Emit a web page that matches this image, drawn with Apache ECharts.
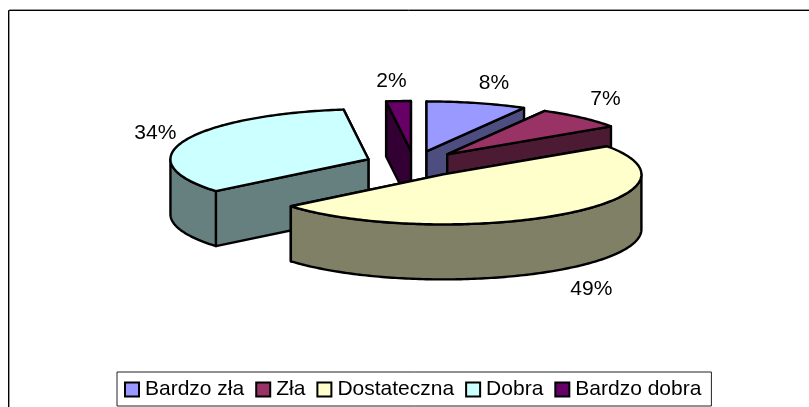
<!DOCTYPE html>
<html>
<head>
<meta charset="utf-8">
<style>html,body{margin:0;padding:0;background:#fff}#c{width:809px;height:407px}</style>
<script src="https://cdn.jsdelivr.net/npm/echarts@6/dist/echarts.min.js"></script>
</head>
<body>
<div id="c"></div>
<script>
const categories = ['Bardzo zła', 'Zła', 'Dostateczna', 'Dobra', 'Bardzo dobra'];
const shares = [8.2, 7.3, 48.5, 34.0, 2.0];
const topColors = ['#9999FF', '#993366', '#FFFFCC', '#CCFFFF', '#660066'];
const wallColors = ['#4D4D80', '#4D1A33', '#808066', '#668080', '#330033'];
const labelNudge = [[17, -20], [24, -18], [29, 20], [-29, -8], [-7, -20]];
const drawOrder = [0, 1, 4, 3, 2];

const pie = { cx: 414, cy: 164, rx: 198, ry: 50, depth: 55, explodeX: 49, explodeY: 13 };
const FONT = '"Liberation Sans", Arial, sans-serif';
const total = shares.reduce((a, b) => a + b, 0);
const starts = [];
shares.reduce((acc, v, i) => { starts[i] = acc; return acc + v; }, 0);
const rad = d => d * Math.PI / 180;

function sliceElements(i) {
  const a0 = starts[i] / total * 360;
  const a1 = (starts[i] + shares[i]) / total * 360;
  const mid = rad((a0 + a1) / 2);
  const ax = pie.cx + pie.explodeX * Math.sin(mid);
  const ay = pie.cy - pie.explodeY * Math.cos(mid);
  const pt = (deg, drop) => [ax + pie.rx * Math.sin(rad(deg)), ay - pie.ry * Math.cos(rad(deg)) + (drop || 0)];
  const line = { stroke: '#000', lineWidth: 2.4, lineJoin: 'round' };
  const poly = (points, fill) => ({ type: 'polygon', shape: { points }, style: Object.assign({ fill }, line) });
  const kids = [];
  // radial cut faces, back one first
  [a0, a1].sort((p, q) => Math.cos(rad(q)) - Math.cos(rad(p))).forEach(a => {
    kids.push(poly([[ax, ay], pt(a), pt(a, pie.depth), [ax, ay + pie.depth]], wallColors[i]));
  });
  // outer rim, only the part facing the viewer
  const from = Math.max(a0, 90), to = Math.min(a1, 270);
  if (to > from) {
    const up = [], down = [];
    for (let d = from; d < to; d += 1) { up.push(pt(d)); down.unshift(pt(d, pie.depth)); }
    up.push(pt(to)); down.unshift(pt(to, pie.depth));
    kids.push(poly(up.concat(down), wallColors[i]));
  }
  // top face
  const top = [[ax, ay]];
  for (let d = a0; d < a1; d += 1) top.push(pt(d));
  top.push(pt(a1));
  kids.push(poly(top, topColors[i]));
  // percentage label
  const m = (a0 + a1) / 2;
  const anchor = pt(m, Math.cos(rad(m)) < 0 ? pie.depth : 0);
  kids.push({
    type: 'text',
    z2: 100,
    style: {
      x: anchor[0] + labelNudge[i][0], y: anchor[1] + labelNudge[i][1],
      text: Math.round(shares[i]) + '%',
      font: '21px ' + FONT, fill: '#000', align: 'center', verticalAlign: 'middle'
    }
  });
  return { type: 'group', children: kids };
}

const chart = echarts.init(document.getElementById('c'), null, { renderer: 'canvas' });
chart.setOption({
  animation: false,
  backgroundColor: '#fff',
  graphic: [
    { type: 'polyline', silent: true, shape: { points: [[9.5, 407], [9.5, 9.5], [809, 9.5]] }, style: { stroke: '#999', lineWidth: 1, fill: null } },
    { type: 'polyline', silent: true, shape: { points: [[8.5, 407], [8.5, 10.5], [809, 10.5]] }, style: { stroke: '#000', lineWidth: 1, fill: null } }
  ],
  legend: {
    data: categories,
    left: 117, top: 372, width: 660,
    padding: [7, 10, 6, 7],
    backgroundColor: '#fff',
    borderColor: '#222', borderWidth: 1,
    itemGap: 11, itemWidth: 14, itemHeight: 14,
    icon: 'rect',
    selectedMode: false,
    itemStyle: { borderColor: '#000', borderWidth: 2 },
    textStyle: { fontFamily: FONT, fontSize: 21, color: '#000', padding: [0, 0, 0, 1] }
  },
  series: drawOrder.map((i, k) => ({
    type: 'custom',
    name: categories[i],
    coordinateSystem: 'none',
    silent: true,
    z: 2 + k,
    itemStyle: { color: topColors[i] },
    data: [[shares[i]]],
    renderItem: () => sliceElements(i)
  }))
});
</script>
</body>
</html>
